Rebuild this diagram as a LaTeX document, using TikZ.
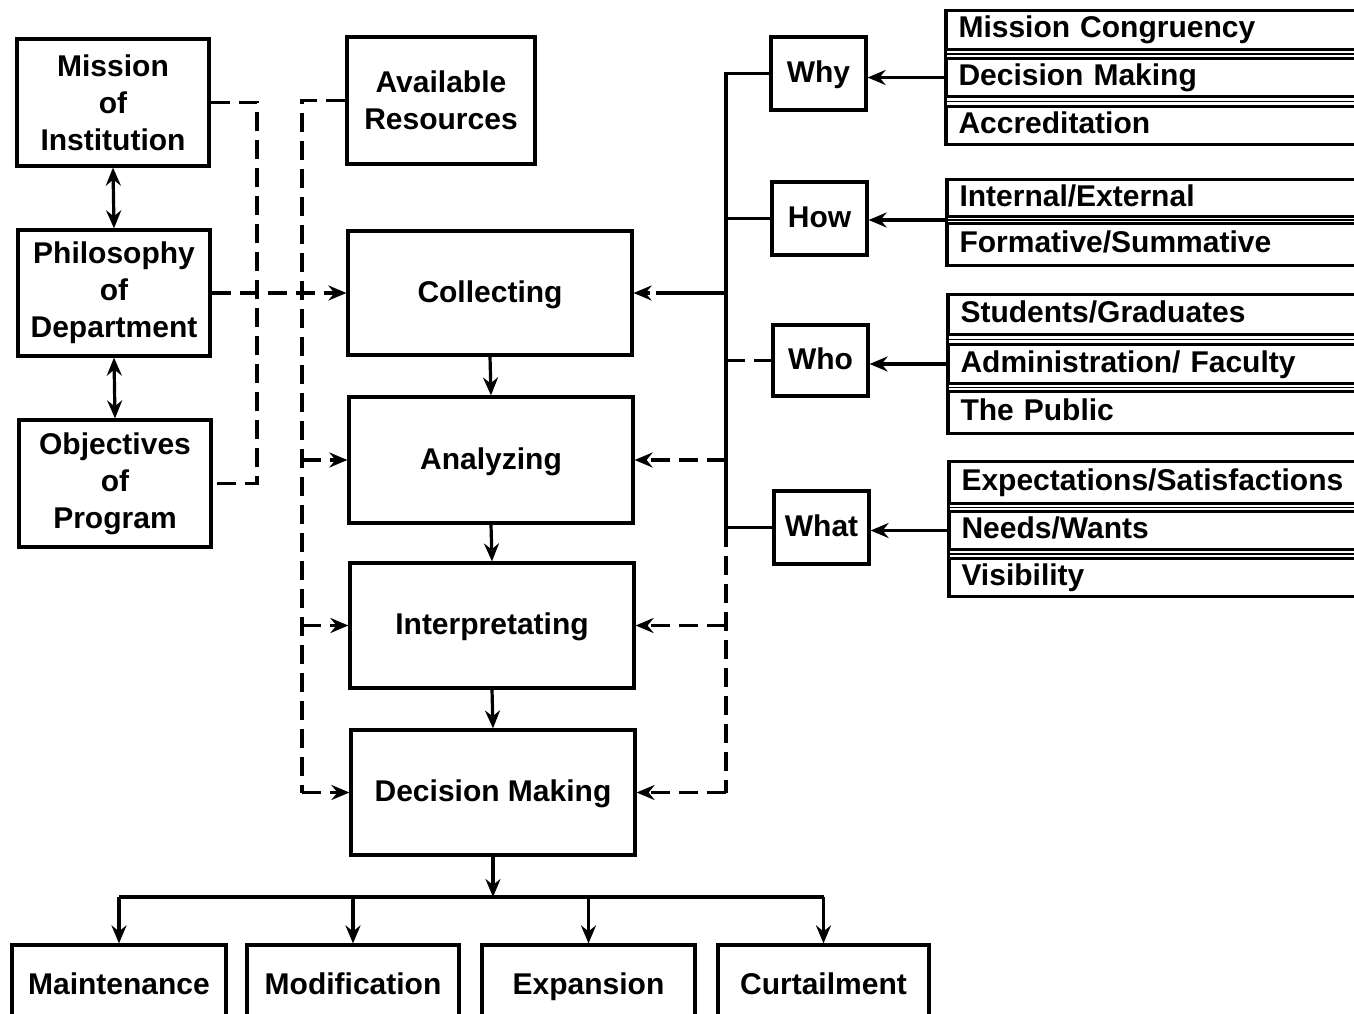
\documentclass[tikz,border=0pt]{standalone}
\usepackage{fontspec}
\setmainfont{Liberation Sans}
\usetikzlibrary{arrows.meta,calc}
\begin{document}
\begin{tikzpicture}[x=1pt,y=-1pt,
  >={Stealth[length=18pt,width=15pt,inset=6pt]},
  every node/.style={font=\fontsize{30}{37}\selectfont\bfseries},
  box/.style={draw, line width=3.2pt, rectangle, align=center, inner sep=0pt},
  one/.style={text height=22pt, text depth=4pt},
  item/.style={draw, line width=3pt, rectangle, anchor=north west, text width=416pt,
               inner xsep=12pt, inner ysep=0pt, align=left, text height=22pt, text depth=6pt},
  ln/.style={line width=3.2pt},
  dsh/.style={line width=3.2pt, dash pattern=on 19pt off 9pt},
  sep/.style={line width=1.8pt}]
\useasboundingbox (0,0) rectangle (1354,1014);
\clip (0,0) rectangle (1354,1014);
\fill[white] (0,0) rectangle (1354,1014);

% left column
\node[box, minimum width=192pt, minimum height=127pt] (mis) at (113,102.5) {Mission\\of\\Institution};
\node[box, minimum width=192pt, minimum height=126pt] (phi) at (114,293) {Philosophy\\of\\Department};
\node[box, minimum width=192pt, minimum height=127pt] (obj) at (115,483.5) {Objectives\\of\\Program};
\node[box, minimum width=188pt, minimum height=127pt] (res) at (441,100.5) {Available\\Resources};

% centre column
\node[box, one, minimum width=284pt, minimum height=124pt] (col) at (490,293) {Collecting};
\node[box, one, minimum width=284pt, minimum height=126pt] (ana) at (491,460) {Analyzing};
\node[box, one, minimum width=284pt, minimum height=125pt] (int) at (492,625.5) {Interpretating};
\node[box, one, minimum width=284pt, minimum height=125pt] (dec) at (493,792.5) {Decision Making};

% question boxes
\node[box, one, minimum width=95pt, minimum height=73pt] (why) at (818.5,73.5) {Why};
\node[box, one, minimum width=95pt, minimum height=73pt] (how) at (819.5,218.5) {How};
\node[box, one, minimum width=95pt, minimum height=71pt] (who) at (820.5,360.5) {Who};
\node[box, one, minimum width=95pt, minimum height=73pt] (what) at (821.5,527.5) {What};

% bottom boxes
\node[box, one, minimum width=214pt, minimum height=80pt] (m1) at (119,985) {Maintenance};
\node[box, one, minimum width=212pt, minimum height=80pt] (m2) at (353,985) {Modification};
\node[box, one, minimum width=213pt, minimum height=80pt] (m3) at (588.5,985) {Expansion};
\node[box, one, minimum width=211pt, minimum height=80pt] (m4) at (823.5,985) {Curtailment};

% right lists
\node[item, minimum height=39pt] (a1) at (945,9) {Mission Congruency};
\node[item, minimum height=38pt] (a2) at (945,57) {Decision Making};
\node[item, minimum height=38pt] (a3) at (945,105) {Accreditation};
\node[item, minimum height=37pt] (b1) at (946,178) {Internal/External};
\node[item, minimum height=42pt] (b2) at (946,222) {Formative/Summative};
\node[item, minimum height=40pt] (c1) at (947,293) {Students/Graduates};
\node[item, minimum height=39pt] (c2) at (947,343) {Administration/ Faculty};
\node[item, minimum height=42pt] (c3) at (947,390) {The Public};
\node[item, minimum height=42pt] (d1) at (948,460) {Expectations/Satisfactions};
\node[item, minimum height=38pt] (d2) at (948,510) {Needs/Wants};
\node[item, minimum height=38pt] (d3) at (948,557) {Visibility};

\foreach \p/\q in {a1/a2,a2/a3,b1/b2,c1/c2,c2/c3,d1/d2,d2/d3}{
  \draw[sep] ($(\p.south west)!.5!(\q.north west)$) -- ++(460,0);
}
\draw[line width=3pt] (a1.north west) -- (a3.south west);
\draw[line width=3pt] (b1.north west) -- (b2.south west);
\draw[line width=3pt] (c1.north west) -- (c3.south west);
\draw[line width=3pt] (d1.north west) -- (d3.south west);

\coordinate (hw) at ($(b1.south west)!.5!(b2.north west)$);
\draw[ln,->] (a2.west) -- (a2.west -| why.east);
\draw[ln,->] (hw) -- (hw -| how.east);
\draw[ln,->] (c2.west) -- (c2.west -| who.east);
\draw[ln,->] (d2.west) -- (d2.west -| what.east);

% left double arrows
\draw[ln,<->] (mis.south) -- (phi.north);
\draw[ln,<->] (phi.south) -- (obj.north);

% left dashed connectors
\coordinate (lv) at (257,0);
\coordinate (mv) at (302,0);
\draw[dsh] (mis.east) -- (mis.east -| lv) -- (obj.east -| lv) -- (obj.east);
\draw[dsh,->] (phi.east) -- (phi.east -| col.west);
\draw[dsh] (res.west) -- (res.west -| mv) -- (dec.west -| mv);
\draw[dsh,->] (ana.west -| mv) -- (ana.west);
\draw[dsh,->] (int.west -| mv) -- (int.west);
\draw[dsh,->] (dec.west -| mv) -- (dec.west);

% centre flow
\draw[ln,->] (col.south) -- (ana.north);
\draw[ln,->] (ana.south) -- (int.north);
\draw[ln,->] (int.south) -- (dec.north);

% right connectors
\coordinate (rv) at (726,0);
\draw[ln] (why.west) -- (why.west -| rv) -- (what.west -| rv);
\draw[ln] (how.west -| rv) -- (how.west);
\draw[dsh] (who.west -| rv) -- (who.west);
\draw[ln] (what.west -| rv) -- (what.west);
\draw[dsh] (what.west -| rv) -- (dec.east -| rv);
\draw[ln,->,dash pattern=on 70pt off 6pt] (col.east -| rv) -- (col.east);
\draw[dsh,->] (ana.east -| rv) -- (ana.east);
\draw[dsh,->] (int.east -| rv) -- (int.east);
\draw[dsh,->] (dec.east -| rv) -- (dec.east);

% bottom fan-out
\coordinate (hb) at (0,897);
\draw[ln,->] (dec.south) -- (dec.south |- hb);
\draw[ln] (m1.north |- hb) -- (m4.north |- hb);
\foreach \m in {m1,m2,m3,m4}{
  \draw[ln,->] (\m.north |- hb) -- (\m.north);
}
\end{tikzpicture}
\end{document}
